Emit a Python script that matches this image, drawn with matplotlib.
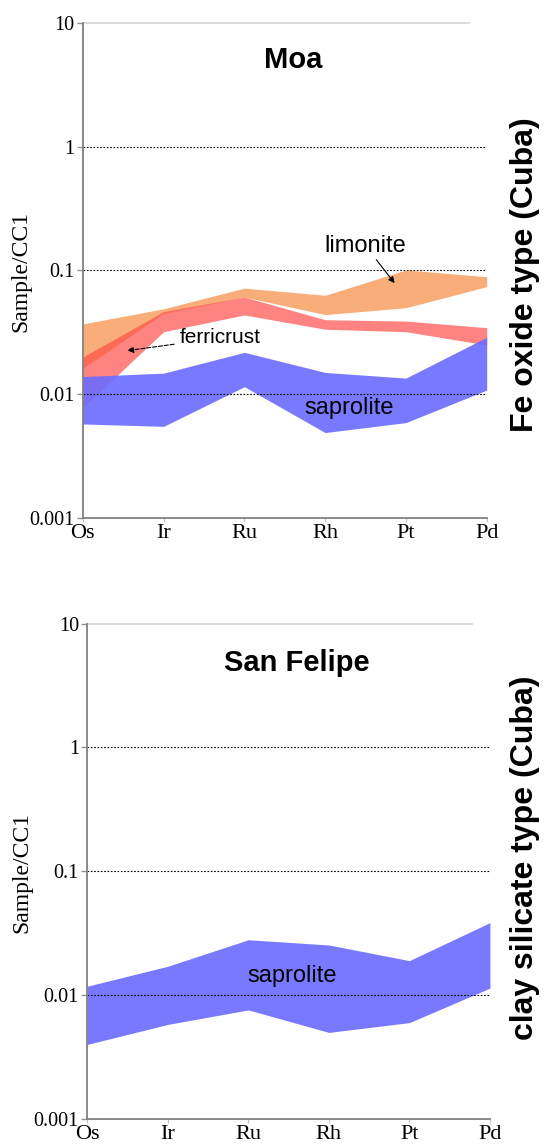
import numpy as np
import matplotlib
matplotlib.use("Agg")
import matplotlib.pyplot as plt

# --- Data --- #
elements = ["Os", "Ir", "Ru", "Rh", "Pt", "Pd"]

moa_limonite_hi = [0.037, 0.049, 0.072, 0.063, 0.101, 0.089]
moa_limonite_lo = [0.0162, 0.045, 0.061, 0.044, 0.050, 0.074]
moa_ferricrust_hi = [0.020, 0.0465, 0.061, 0.040, 0.039, 0.0345]
moa_ferricrust_lo = [0.0078, 0.032, 0.0437, 0.0335, 0.032, 0.025]
moa_saprolite_hi = [0.0139, 0.0148, 0.0218, 0.015, 0.0135, 0.0289]
moa_saprolite_lo = [0.00575, 0.0055, 0.0115, 0.0049, 0.0059, 0.0108]

sf_saprolite_hi = [0.0118, 0.0171, 0.028, 0.0254, 0.019, 0.0385]
sf_saprolite_lo = [0.0040, 0.0058, 0.0076, 0.0050, 0.0060, 0.0114]

orange = "#F9AD78"
red = "#FF4A45"
blue = "#6B6BFF"
serif = "Liberation Serif"
sans = "Liberation Sans"


def style_axes(ax, label_x):
    x = np.arange(len(elements))
    ax.set_yscale("log")
    ax.set_ylim(0.001, 10)
    ax.set_xlim(x[0], x[-1])
    ax.set_xticks(x)
    ax.set_xticklabels(elements, fontfamily=serif, fontsize=16)
    ax.set_yticks([0.001, 0.01, 0.1, 1, 10])
    ax.set_yticklabels(["0.001", "0.01", "0.1", "1", "10"], fontfamily=serif, fontsize=14.5)
    ax.minorticks_off()
    ax.tick_params(axis="y", length=4, width=1, color="#909090", pad=2)
    ax.tick_params(axis="x", length=3, width=0.8, color="#c0c0c0", pad=1)
    for s in ["top", "right"]:
        ax.spines[s].set_visible(False)
    for s in ["left", "bottom"]:
        ax.spines[s].set_color("#808080")
        ax.spines[s].set_linewidth(1.3)
        ax.spines[s].set_zorder(6)
    for v in [0.01, 0.1, 1]:
        ax.axhline(v, color="black", lw=0.8, ls=(0, (1.5, 1.5)), zorder=5)
    ax.axhline(10, xmax=0.955, color="#d8d8d8", lw=1.3, zorder=5, clip_on=False)
    ax.set_ylabel("Sample/CC1", fontfamily=serif, fontsize=17)
    ax.yaxis.set_label_coords(label_x, 0.497)


fig = plt.figure(figsize=(5.45, 11.47), dpi=100)

# --- Moa panel --- #
ax1 = fig.add_axes([0.152, 0.5484, 0.741, 0.4316])
x = np.arange(len(elements))
ax1.fill_between(x, moa_limonite_lo, moa_limonite_hi, color=orange, lw=0, zorder=2)
ax1.fill_between(x, moa_ferricrust_lo, moa_ferricrust_hi, color=red, alpha=0.68, lw=0, zorder=3)
ax1.fill_between(x, moa_saprolite_lo, moa_saprolite_hi, color=blue, alpha=0.9, lw=0, zorder=4)
style_axes(ax1, -0.127)
ax1.text(2.6, 5.0, "Moa", fontfamily=sans, fontweight="bold", fontsize=21,
         ha="center", va="center")
ax1.annotate("limonite", xy=(3.86, 0.079), xytext=(3.5, 0.158),
             fontfamily=sans, fontsize=17, ha="center", va="center",
             arrowprops=dict(arrowstyle="-|>", color="black", lw=0.8,
                             shrinkA=0, shrinkB=0, mutation_scale=9))
ax1.annotate("ferricrust", xy=(0.55, 0.0225), xytext=(1.7, 0.0285),
             fontfamily=sans, fontsize=15, ha="center", va="center",
             arrowprops=dict(arrowstyle="-|>", color="black", lw=0.8, ls="--",
                             shrinkA=2, shrinkB=0, mutation_scale=9))
ax1.text(3.3, 0.0077, "saprolite", fontfamily=sans, fontsize=17,
         ha="center", va="center", zorder=7)
fig.text(0.963, 0.7603, "Fe oxide type (Cuba)", fontfamily=sans, fontweight="bold",
         fontsize=23, rotation=90, ha="center", va="center")

# --- San Felipe panel --- #
ax2 = fig.add_axes([0.160, 0.0244, 0.739, 0.432])
ax2.fill_between(x, sf_saprolite_lo, sf_saprolite_hi, color=blue, alpha=0.9, lw=0, zorder=4)
style_axes(ax2, -0.136)
ax2.text(2.6, 4.8, "San Felipe", fontfamily=sans, fontweight="bold", fontsize=21,
         ha="center", va="center")
ax2.text(2.55, 0.0142, "saprolite", fontfamily=sans, fontsize=17,
         ha="center", va="center", zorder=7)
fig.text(0.963, 0.252, "clay silicate type (Cuba)", fontfamily=sans, fontweight="bold",
         fontsize=23, rotation=90, ha="center", va="center")

fig.savefig("out.png", dpi=100)
